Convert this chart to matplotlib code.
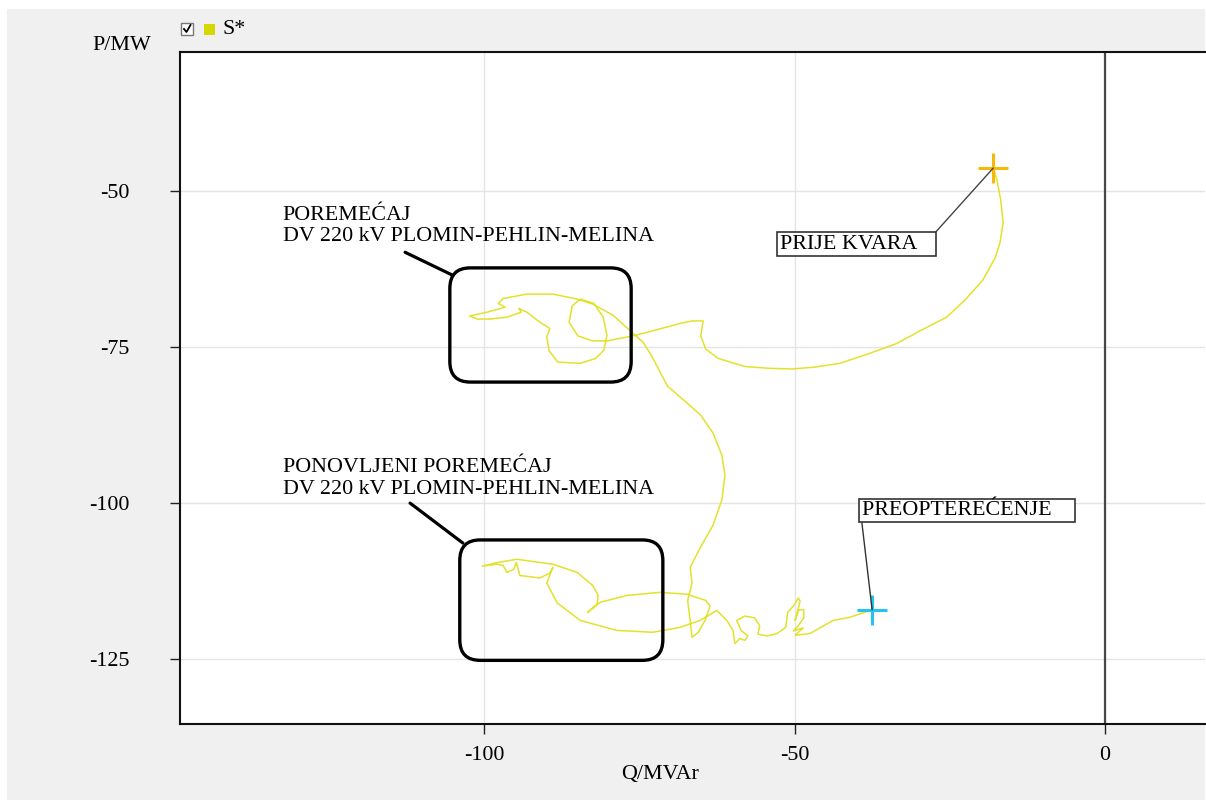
import matplotlib
matplotlib.use('Agg')
import matplotlib.pyplot as plt
from matplotlib.patches import FancyBboxPatch, Rectangle
from matplotlib.lines import Line2D

# Trajectory S* : Q (MVAr) and P (MW)
q_mvar = [-18.0, -17.4, -16.8, -16.4, -16.9, -17.7, -19.7, -22.6, -25.5, -29.8,
          -33.5, -37.9, -42.7, -46.7, -50.3, -54.0, -58.0, -62.3, -64.3, -65.1,
          -64.7, -66.5, -68.4, -72.5, -76.0, -80.2, -82.5, -84.9, -86.3, -85.8,
          -84.5, -82.3, -80.8, -80.2, -80.7, -82.0, -84.5, -88.1, -89.5, -89.9,
          -89.4, -91.0, -93.1, -94.4, -94.0, -96.3, -99.0, -101.1, -102.3, -99.5,
          -96.6, -97.7, -96.9, -93.1, -88.9, -85.0, -82.5, -79.2, -76.0, -74.4,
          -73.0, -71.7, -70.4, -67.6, -65.1, -63.1, -61.7, -61.2, -61.7, -63.1,
          -65.2, -66.8, -66.5, -67.2, -66.8, -66.5, -65.5, -64.4, -63.6, -64.3,
          -67.3, -71.7, -77.0, -81.3, -83.3, -81.8, -81.6, -82.5, -85.0, -88.9,
          -94.7, -97.7, -100.3, -97.9, -96.9, -96.3, -95.2, -94.8, -94.2, -91.0,
          -89.4, -88.9, -89.9, -88.2, -84.5, -78.6, -72.8, -68.4, -65.2, -62.5,
          -60.9, -59.9, -59.6, -58.8, -58.0, -57.5, -58.6, -59.3, -58.0, -56.4,
          -55.6, -55.9, -54.4, -52.8, -51.4, -51.1, -50.1, -49.4, -49.1, -49.9,
          -49.3, -48.5, -48.5, -49.6, -50.2, -48.6, -49.9, -47.5, -43.8, -41.1,
          -39.0, -37.5]
p_mw = [-46.3, -48.2, -51.4, -55.0, -58.2, -60.7, -64.3, -67.5, -70.2, -72.4,
        -74.4, -76.0, -77.6, -78.2, -78.5, -78.4, -78.1, -76.8, -75.3, -73.2,
        -70.8, -70.8, -71.2, -72.3, -73.2, -74.0, -74.0, -73.2, -71.0, -68.4,
        -67.3, -68.0, -70.2, -73.1, -75.5, -76.8, -77.6, -77.4, -75.6, -73.4,
        -72.0, -71.0, -69.4, -68.8, -69.4, -70.2, -70.5, -70.5, -70.0, -69.4,
        -68.6, -68.0, -67.2, -66.5, -66.5, -67.3, -68.1, -69.9, -72.8, -74.2,
        -76.4, -78.9, -81.3, -83.7, -85.9, -88.8, -92.3, -95.5, -99.5, -103.5,
        -107.2, -110.3, -112.8, -115.6, -118.8, -121.5, -120.7, -118.8, -116.5, -115.6,
        -114.6, -114.3, -114.8, -115.9, -117.5, -116.2, -114.8, -113.2, -111.1, -109.8,
        -109.0, -109.5, -110.1, -109.8, -110.0, -111.1, -110.6, -109.5, -111.6, -112.0,
        -111.2, -110.3, -112.8, -116.0, -118.8, -120.4, -120.7, -119.9, -118.8, -117.2,
        -118.8, -120.4, -122.5, -121.7, -122.0, -121.3, -120.4, -118.8, -118.1, -118.4,
        -119.7, -121.0, -121.3, -120.9, -119.9, -117.5, -116.4, -115.2, -115.7, -118.8,
        -117.1, -117.1, -118.4, -119.9, -120.5, -120.0, -121.2, -120.9, -118.8, -118.3,
        -117.6, -117.1]

x_ticks = [-100, -50, 0]
y_ticks = [-50, -75, -100, -125]
series_name = 'S*'
label_before = 'PRIJE KVARA'
label_after = 'PREOPTEREĆENJE'
label_dist1 = 'POREMEĆAJ\nDV 220 kV PLOMIN-PEHLIN-MELINA'
label_dist2 = 'PONOVLJENI POREMEĆAJ\nDV 220 kV PLOMIN-PEHLIN-MELINA'

plt.rcParams['font.family'] = ['Liberation Serif', 'DejaVu Serif']
plt.rcParams['axes.unicode_minus'] = False
FS = 15.8
W, H = 1206, 802

fig = plt.figure(figsize=(W / 100, H / 100), dpi=100, facecolor='white')
# grey panel background
fig.patches.append(Rectangle((7 / W, 2 / H), (1205 - 7) / W, (793 - 2) / H,
                             transform=fig.transFigure, facecolor='#f0f0f0',
                             edgecolor='none', zorder=-10))

ax = fig.add_axes([180 / W, 78 / H, 1025 / W, 672 / H])
ax.set_zorder(1)
ax.set_facecolor('white')
ax.set_xlim(-148.95, 16.1)
ax.set_ylim(-135.4, -27.7)
ax.set_xticks(x_ticks)
ax.set_yticks(y_ticks)
ax.grid(True, color='#e4e4e4', lw=1.0, zorder=0)
ax.set_axisbelow(True)
for s in ['left', 'top', 'bottom']:
    ax.spines[s].set_linewidth(1.5)
    ax.spines[s].set_color('#111111')
ax.spines['right'].set_visible(False)
ax.tick_params(axis='both', direction='out', length=7, width=1.0,
               labelsize=FS, color='#222222')
ax.tick_params(axis='y', pad=29)
ax.tick_params(axis='x', pad=9)
ax.axvline(0, color='#484848', lw=1.6, zorder=1)

# trajectory
ax.plot(q_mvar, p_mw, color='#e2e22c', lw=1.1, zorder=3,
        solid_joinstyle='round')
ax.plot(q_mvar[0], p_mw[0], marker='+', ms=21, mew=2.2, color='#f8b80a', zorder=4)
ax.plot(q_mvar[-1], p_mw[-1], marker='+', ms=21, mew=2.2, color='#26c2f0', zorder=4)

# boxed annotations
ax.annotate(label_before + '\u00a0\u00a0\u00a0', xy=(q_mvar[0], p_mw[0]),
            xytext=(-52.4, -58.5), fontsize=FS, ha='left', va='center',
            bbox=dict(boxstyle='square,pad=0.1', fc='white', ec='#333333', lw=1.2),
            arrowprops=dict(arrowstyle='-', color='#444444', lw=1.0,
                            shrinkA=0, shrinkB=0, relpos=(1, 1)), zorder=5)
ax.annotate(label_after + '\u00a0\u00a0\u00a0\u00a0', xy=(q_mvar[-1], p_mw[-1]),
            xytext=(-39.2, -101.2), fontsize=FS, ha='left', va='center',
            bbox=dict(boxstyle='square,pad=0.1', fc='white', ec='#333333', lw=1.2),
            arrowprops=dict(arrowstyle='-', color='#333333', lw=1.0,
                            shrinkA=0, shrinkB=0, relpos=(0, 0)), zorder=5)

# disturbance annotations
ax.text(-132.4, -55.6, label_dist1, fontsize=FS, ha='left', va='center', zorder=5)
ax.text(-132.4, -96.0, label_dist2, fontsize=FS, ha='left', va='center', zorder=5)
ax.annotate('', xy=(-105.0, -63.5), xytext=(-112.7, -59.8),
            arrowprops=dict(arrowstyle='-', color='black', lw=2.3,
                            shrinkA=0, shrinkB=0))
ax.annotate('', xy=(-103.4, -106.4), xytext=(-111.9, -100.0),
            arrowprops=dict(arrowstyle='-', color='black', lw=2.3,
                            shrinkA=0, shrinkB=0))
r = 3.3
for (x0, x1, y0, y1) in [(-105.5, -76.3, -80.6, -62.3), (-103.9, -71.2, -125.2, -105.9)]:
    ax.add_patch(FancyBboxPatch((x0 + r, y0 + r), (x1 - x0) - 2 * r, (y1 - y0) - 2 * r,
                                boxstyle='round,pad=%f' % r, fc='none', ec='black',
                                lw=2.4, zorder=5))

# axis labels
fig.text(660 / W, 1 - 775 / H, 'Q/MVAr', fontsize=FS, ha='center', va='center')
fig.text(122 / W, 1 - 45 / H, 'P/MW', fontsize=FS, ha='center', va='center')

# legend (checkbox + colour square + name)
fig.patches.append(Rectangle((181 / W, 1 - 35 / H), 12 / W, 12 / H,
                             transform=fig.transFigure, fc='white', ec='#777777', lw=1.0))
fig.lines.append(Line2D([184 / W, 186.5 / W, 190.5 / W],
                        [1 - 29 / H, 1 - 32 / H, 1 - 25 / H],
                        transform=fig.transFigure, color='black', lw=1.3))
fig.patches.append(Rectangle((204 / W, 1 - 35 / H), 11 / W, 11 / H,
                             transform=fig.transFigure, fc='#d6d600', ec='none'))
fig.text(222 / W, 1 - 29 / H, series_name, fontsize=FS, ha='left', va='center')

fig.savefig('out.png', dpi=100, facecolor=fig.get_facecolor())
